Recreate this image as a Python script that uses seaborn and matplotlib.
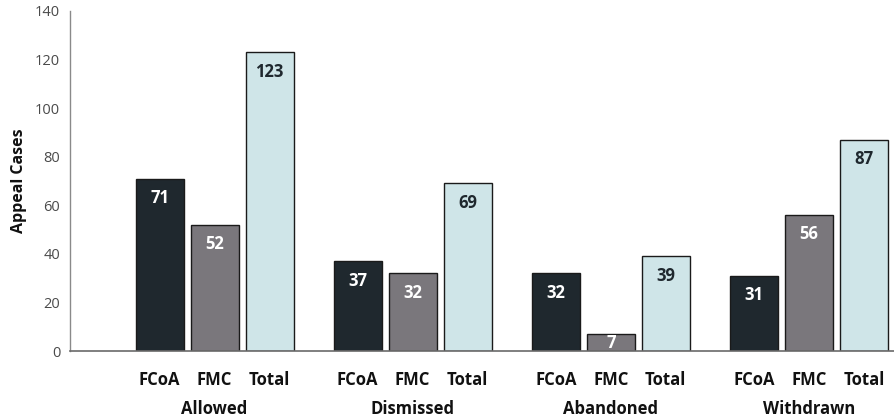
import matplotlib
matplotlib.use("Agg")
import matplotlib.pyplot as plt
import matplotlib.transforms as mtransforms
import seaborn as sns
import pandas as pd

# Appeal outcomes by court
outcomes = ["Allowed", "Dismissed", "Abandoned", "Withdrawn"]
courts = ["FCoA", "FMC", "Total"]
fcoa = [71, 37, 32, 31]
fmc = [52, 32, 7, 56]
total = [123, 69, 39, 87]
y_ticks = [0, 20, 40, 60, 80, 100, 120, 140]

colors = {"FCoA": "#1f282e", "FMC": "#7a777c", "Total": "#cfe5e8"}
label_colors = {"FCoA": "white", "FMC": "white", "Total": "#1f282e"}

rows = []
for court, vals in zip(courts, [fcoa, fmc, total]):
    for outcome, v in zip(outcomes, vals):
        rows.append({"outcome": outcome, "court": court, "cases": v})
df = pd.DataFrame(rows)

sns.set_theme(style="white")
plt.rcParams["font.family"] = ["Open Sans", "DejaVu Sans"]

fig = plt.figure(figsize=(8.94, 4.2), dpi=100)
ax = fig.add_axes([0.0783, 0.164, 0.9217, 0.81])

sns.barplot(data=df, x="outcome", y="cases", hue="court", order=outcomes,
            hue_order=courts, palette=colors, width=0.833, gap=0.13,
            edgecolor="#1a1a1a", linewidth=1.0, saturation=1, ax=ax,
            legend=False)

ax.set_ylim(0, 140)
ax.set_xlim(-0.73, 3.43)
ax.set_yticks(y_ticks)
ax.set_yticklabels([str(t) for t in y_ticks], fontsize=10.5, color="#4a4a4a")
ax.tick_params(axis="y", length=0, pad=7)
ax.tick_params(axis="x", length=0, pad=35)
ax.set_xticks(range(len(outcomes)))
ax.set_xticklabels(outcomes, fontsize=12, fontweight="bold", color="#111111")
ax.set_xlabel("")
ax.set_ylabel("Appeal Cases", fontsize=11.5, fontweight="bold", color="#111111",
              labelpad=6)

for side in ["top", "right"]:
    ax.spines[side].set_visible(False)
ax.spines["left"].set_color("#8a8a8a")
ax.spines["bottom"].set_color("#6a6a6a")
ax.spines["left"].set_linewidth(1.0)
ax.spines["bottom"].set_linewidth(1.2)

trans = mtransforms.blended_transform_factory(ax.transData, ax.transAxes)
px_per_unit = ax.get_window_extent().height / 140.0
for court, container in zip(courts, ax.containers):
    for bar in container:
        cx = bar.get_x() + bar.get_width() / 2
        h = bar.get_height()
        # value label inside the bar, near its top
        if h * px_per_unit > 45:
            ax.annotate(f"{h:.0f}", (cx, h), xytext=(0, -14), textcoords="offset points",
                        ha="center", va="center", fontsize=12, fontweight="bold",
                        color=label_colors[court])
        else:
            ax.text(cx, h / 2, f"{h:.0f}", ha="center", va="center", fontsize=12,
                    fontweight="bold", color=label_colors[court])
        # court name under each bar
        ax.annotate(court, (cx, 0), xycoords=trans, xytext=(0, -21),
                    textcoords="offset points", ha="center", va="center",
                    fontsize=12, fontweight="bold", color="#111111",
                    annotation_clip=False)

fig.savefig("out.png", dpi=100)
